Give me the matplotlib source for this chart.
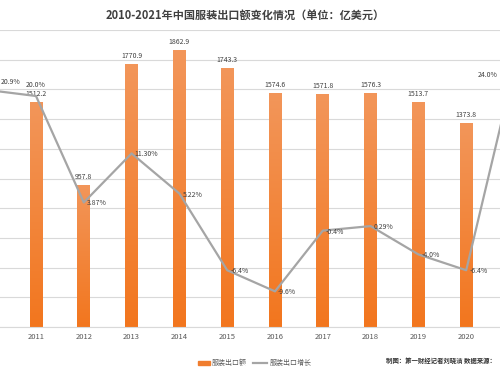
import matplotlib
matplotlib.use("Agg")
import matplotlib.pyplot as plt
import numpy as np
from matplotlib.colors import LinearSegmentedColormap
from matplotlib.patches import Rectangle
from matplotlib.lines import Line2D

plt.rcParams['font.family'] = ['Noto Sans CJK SC', 'DejaVu Sans']

years = ['2010', '2011', '2012', '2013', '2014', '2015', '2016', '2017', '2018', '2019', '2020', '2021']
exports = [1298.2, 1512.2, 957.8, 1770.9, 1862.9, 1743.3, 1574.6, 1571.8, 1576.3, 1513.7, 1373.8, 1702.6]
growth = [20.9, 20.0, 3.87, 11.30, 5.22, -6.4, -9.6, -0.4, 0.29, -4.0, -6.4, 24.0]
growth_labels = ['20.9%', '20.0%', '3.87%', '11.30%', '5.22%', '-6.4%', '-9.6%', '-0.4%', '0.29%', '-4.0%', '-6.4%', '24.0%']
title = '2010-2021年中国服装出口额变化情况（单位：亿美元）'
legend_bar = '服装出口额'
legend_line = '服装出口增长'
source = '制图：第一财经记者刘晓洁 数据来源：'

fig = plt.figure(figsize=(5, 3.75), dpi=100)
ax = fig.add_axes([0, 0.128, 1, 0.792])
ax2 = ax.twinx()

x = np.arange(len(years))
bw = 0.27
bars = ax.bar(x, exports, width=bw, color='#F2832F', zorder=2)

# gradient fill for bars
cmap = LinearSegmentedColormap.from_list('og', ['#F2761E', '#F3965A'])
grad = np.linspace(0, 1, 256).reshape(-1, 1)
for b in bars:
    x0, y0 = b.get_x(), b.get_y()
    w, h = b.get_width(), b.get_height()
    im = ax.imshow(grad, cmap=cmap, origin='lower', aspect='auto',
                   extent=(x0, x0 + w, y0, y0 + h), zorder=2.1)
    im.set_clip_path(b)

xl = (0.247, 10.707)
ax.set_xlim(*xl)
ax.set_ylim(0, 2000)
ax.set_yticks(np.arange(0, 2001, 200))
ax.yaxis.grid(True, color='#D9D9D9', lw=0.8, zorder=0)
ax.set_axisbelow(True)
ax.tick_params(axis='y', left=False, labelleft=False)
ax.set_xticks(x[1:11])
ax.set_xticklabels(years[1:11], fontsize=5.5, color='#595959')
ax.tick_params(axis='x', length=0, pad=4)
for s in ['top', 'left', 'right']:
    ax.spines[s].set_visible(False)
ax.spines['bottom'].set_color('#D9D9D9')
ax.spines['bottom'].set_linewidth(0.8)

for xi, v in zip(x, exports):
    if 1 <= xi <= 10:
        ax.annotate(f'{v:.1f}', (xi, v), xytext=(0, 4), textcoords='offset pixels',
                    ha='center', va='bottom', fontsize=5, color='#404040')

ax2.plot(x, growth, color='#A5A5A5', lw=1.6, zorder=3)
ax2.set_ylim(-15, 30)
ax2.set_xlim(*xl)
ax2.axis('off')

offsets = {0: (13, 8, 'left'), 1: (0, 11, 'center'), 11: (-16, -5, 'right')}
for i, (v, lab) in enumerate(zip(growth, growth_labels)):
    dx, dy, ha = offsets.get(i, (3, -1, 'left'))
    ax2.annotate(lab, (i, v), xytext=(dx, dy), textcoords='offset pixels',
                 ha=ha, va='center', fontsize=5, color='#404040',
                 annotation_clip=False, zorder=4)

fig.text(0.49, 0.96, title, ha='center', va='center', fontsize=8,
         fontweight='bold', color='#404040')

# legend
fig.patches.append(Rectangle((198 / 500, (375 - 365) / 375), 12 / 500, 4 / 375,
                             transform=fig.transFigure, color='#F07D2E'))
fig.text(212 / 500, (375 - 363) / 375, legend_bar, fontsize=5, color='#595959', va='center')
fig.lines.append(Line2D([253 / 500, 267 / 500], [(375 - 363) / 375] * 2,
                        transform=fig.transFigure, color='#A5A5A5', lw=1.6))
fig.text(270 / 500, (375 - 363) / 375, legend_line, fontsize=5, color='#595959', va='center')
fig.text(496 / 500, (375 - 361) / 375, source, fontsize=4.6, color='#333333',
         va='center', ha='right', fontweight='bold')

fig.savefig('out.png', dpi=100)
